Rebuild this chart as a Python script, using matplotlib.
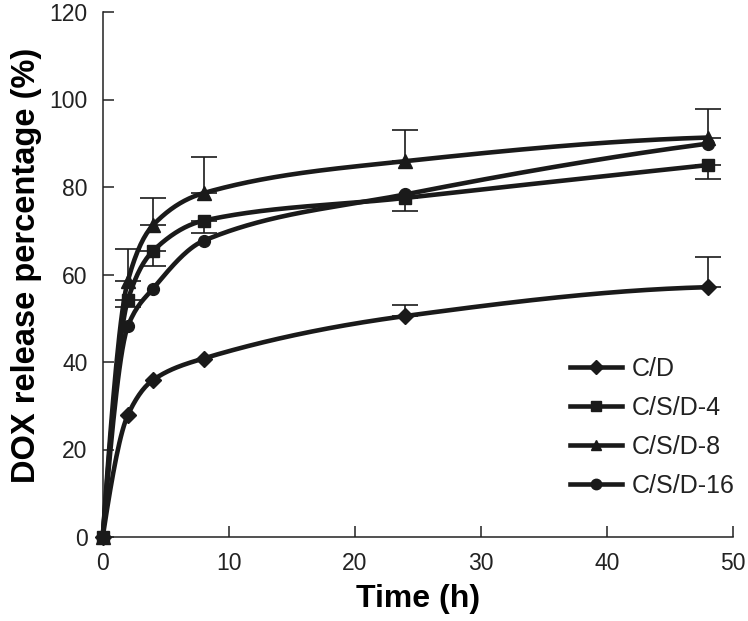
import numpy as np
import matplotlib
matplotlib.use("Agg")
import matplotlib.pyplot as plt
from matplotlib.lines import Line2D

plt.rcParams['font.family'] = ['Liberation Sans', 'DejaVu Sans']

time_h = [0, 2, 4, 8, 24, 48]
series_names = ["C/D", "C/S/D-4", "C/S/D-8", "C/S/D-16"]
cd = [0, 27.9, 35.9, 40.8, 50.5, 57.1]
csd4 = [0, 54.2, 65.4, 72.3, 77.5, 85.0]
csd8 = [0, 58.6, 71.3, 78.6, 85.9, 91.3]
csd16 = [0, 48.2, 56.8, 67.7, 78.3, 89.9]
# error bars (upper, lower)
cd_err_up = [0, 0, 0, 0, 2.5, 6.8]
cd_err_dn = [0, 0, 0, 0, 0, 0]
csd4_err_up = [0, 0, 0, 0, 0, 0]
csd4_err_dn = [0, 1.6, 3.5, 2.9, 3.0, 3.2]
csd8_err_up = [0, 7.2, 6.1, 8.2, 7.1, 6.6]
csd8_err_dn = [0, 0, 0, 0, 0, 0]
csd16_err_up = [0, 0, 0, 0, 0, 0]
csd16_err_dn = [0, 0, 0, 0, 0, 0]

values = [cd, csd4, csd8, csd16]
err_up = [cd_err_up, csd4_err_up, csd8_err_up, csd16_err_up]
err_dn = [cd_err_dn, csd4_err_dn, csd8_err_dn, csd16_err_dn]
markers = ['D', 's', '^', 'o']
msizes = [8.5, 8.5, 9.5, 8.5]
col = '#1a1a1a'


def smooth(x, y, n=400):
    """Smoothed display line through the data (monotone cubic Hermite)."""
    x = np.asarray(x, float)
    y = np.asarray(y, float)
    h = np.diff(x)
    d = np.diff(y) / h
    m = np.zeros_like(y)
    for k in range(1, len(x) - 1):
        if d[k - 1] * d[k] > 0:
            w1 = 2 * h[k] + h[k - 1]
            w2 = h[k] + 2 * h[k - 1]
            m[k] = (w1 + w2) / (w1 / d[k - 1] + w2 / d[k])
    m0 = ((2 * h[0] + h[1]) * d[0] - h[0] * d[1]) / (h[0] + h[1])
    m[0] = m0 if np.sign(m0) == np.sign(d[0]) else 0
    mn = ((2 * h[-1] + h[-2]) * d[-1] - h[-1] * d[-2]) / (h[-1] + h[-2])
    m[-1] = mn if np.sign(mn) == np.sign(d[-1]) else 0
    xs = np.linspace(x[0], x[-1], n)
    idx = np.clip(np.searchsorted(x, xs) - 1, 0, len(x) - 2)
    t = (xs - x[idx]) / h[idx]
    h00 = 2 * t ** 3 - 3 * t ** 2 + 1
    h10 = t ** 3 - 2 * t ** 2 + t
    h01 = -2 * t ** 3 + 3 * t ** 2
    h11 = t ** 3 - t ** 2
    ys = h00 * y[idx] + h10 * h[idx] * m[idx] + h01 * y[idx + 1] + h11 * h[idx] * m[idx + 1]
    return xs, ys


fig = plt.figure(figsize=(7.48, 6.21), dpi=100)
ax = fig.add_axes([102.7 / 748, 1 - 537 / 621, 630 / 748, 525 / 621])

for vals, up, dn, mk, ms in zip(values, err_up, err_dn, markers, msizes):
    up_a = np.asarray(up, float)
    dn_a = np.asarray(dn, float)
    mask = (up_a > 0) | (dn_a > 0)
    xs = np.asarray(time_h, float)[mask]
    ys = np.asarray(vals, float)[mask]
    ax.errorbar(xs, ys, yerr=[dn_a[mask], up_a[mask]], fmt='none', ecolor=col,
                elinewidth=1.2, capsize=9.5, capthick=1.2, zorder=2, clip_on=False)
    sx, sy = smooth(time_h, vals)
    ax.plot(sx, sy, color=col, lw=3.3, solid_capstyle='round', solid_joinstyle='round',
            zorder=3, clip_on=False)
    ax.plot(time_h, vals, linestyle='none', marker=mk, markersize=ms, color=col,
            zorder=4, clip_on=False)

ax.set_xlim(0, 50)
ax.set_ylim(0, 120)
ax.set_xticks(np.arange(0, 51, 10))
ax.set_yticks(np.arange(0, 121, 20))
for s in ['top', 'right']:
    ax.spines[s].set_visible(False)
for s in ['left', 'bottom']:
    ax.spines[s].set_linewidth(1.1)
    ax.spines[s].set_color('#222222')
ax.tick_params(direction='in', length=8, width=1.1, color='#222222',
               labelsize=16.5, labelcolor='#222222', pad=11)

ax.set_xlabel('Time (h)', fontsize=23, fontweight='bold', labelpad=6)
ax.set_ylabel('DOX release percentage (%)', fontsize=23.5, fontweight='bold')
ax.yaxis.set_label_coords(-0.097, 0.518)

handles = [Line2D([], [], color=col, lw=3.3, marker=mk, markersize=7.5)
           for mk in markers]
leg = fig.legend(handles, series_names, loc='center left',
                 bbox_to_anchor=(570 / 748, 1 - 427.5 / 621), frameon=False,
                 fontsize=18, handlelength=2.08, handletextpad=0.4,
                 labelspacing=0.6, borderpad=0, borderaxespad=0)
for t in leg.get_texts():
    t.set_color('#222222')

fig.savefig('out.png', dpi=100)
